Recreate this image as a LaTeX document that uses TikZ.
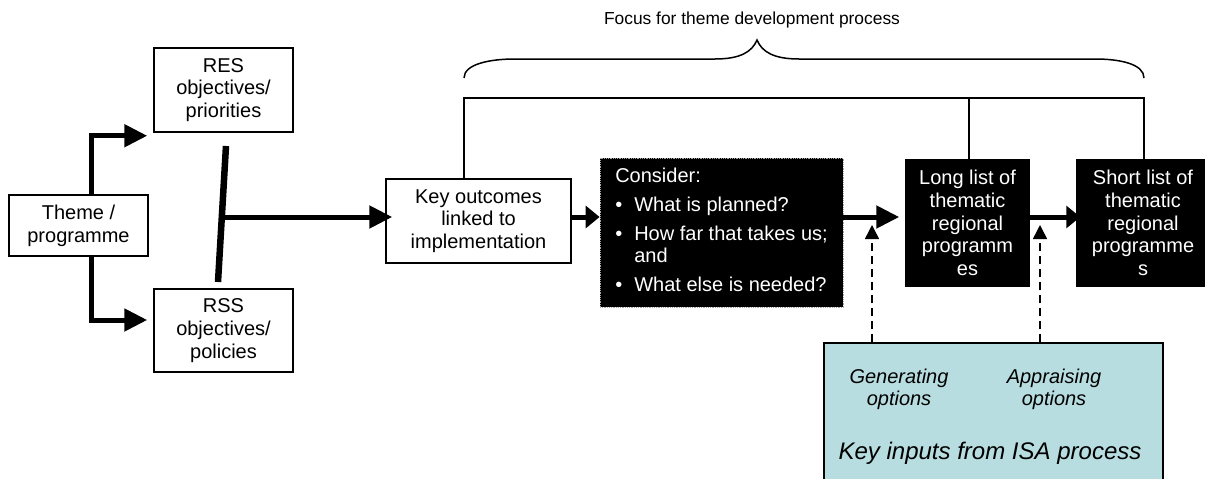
\documentclass[tikz,border=0pt]{standalone}
\usepackage{fontspec}
\setmainfont{Liberation Sans}
\usetikzlibrary{arrows.meta}
\definecolor{isablue}{RGB}{183,221,224}
\tikzset{
  wbox/.style={draw=black, line width=1.5pt, fill=white, align=center, inner sep=0pt,
    font=\fontsize{20}{22.7}\selectfont},
  bbox/.style={draw=black, line width=1.5pt, fill=black, text=white, align=center, inner sep=0pt,
    font=\fontsize{20}{22.7}\selectfont},
  thickarrow/.style={line width=5pt, -{Triangle[length=23pt,width=22pt]}},
  shortarrow/.style={line width=5pt, -{Triangle[length=14pt,width=22pt]}},
  thinline/.style={line width=1.5pt},
  dasharrow/.style={line width=1.5pt, dash pattern=on 8pt off 5pt, -{Triangle[length=14pt,width=14pt]}},
  itext/.style={align=center, inner sep=0pt, font=\fontsize{20}{22}\selectfont\itshape}
}
\begin{document}
\begin{tikzpicture}[x=1pt,y=-1pt]
\useasboundingbox (0,0) rectangle (1205,479);
\clip (0,0) rectangle (1205,479);
\fill[white] (0,0) rectangle (1205,479);

% title and brace
\node[inner sep=0pt, font=\fontsize{17.4}{20}\selectfont] (title) at (752,20) {Focus for theme development process};
\draw[thinline] (464,78) .. controls (464,64) and (490,59) .. (515,59) -- (715,59)
  .. controls (740,59) and (752,52) .. (757,40)
  .. controls (762,52) and (774,59) .. (799,59) -- (1095,59)
  .. controls (1120,59) and (1144,64) .. (1144,78);

% nodes
\node[wbox, minimum width=139pt, minimum height=61pt] (theme) at (78.5,225.5) {Theme /\\programme};
\node[wbox, minimum width=139pt, minimum height=84pt] (res) at (223.5,90) {RES\\objectives/\\priorities};
\node[wbox, minimum width=139pt, minimum height=83pt] (rss) at (223.5,330.5) {RSS\\objectives/\\policies};
\node[wbox, minimum width=185pt, minimum height=84pt] (key) at (478.5,221) {Key outcomes\\linked to\\implementation};
\node[fill=black, draw=gray!70, densely dotted, line width=0.8pt, text=white, inner sep=0pt,
  minimum width=243pt, minimum height=149pt, font=\fontsize{20}{21.5}\selectfont] (consider) at (721.5,232.5)
  {\begin{tabular}{@{}l@{\hspace{12pt}}l@{}}
   \multicolumn{2}{@{}l}{Consider:}\\[7.5pt]
   \textbullet & What is planned?\\[7.5pt]
   \textbullet & How far that takes us;\\
    & and\\[7.5pt]
   \textbullet & What else is needed?
   \end{tabular}};
\node[bbox, minimum width=123pt, minimum height=126pt] (long) at (967.5,223) {Long list of\\thematic\\regional\\programm\\es};
\node[bbox, minimum width=132pt, minimum height=126pt] (short) at (1143,223) {Short list of\\thematic\\regional\\programme\\s};
\node[draw=black, line width=1.5pt, fill=isablue, inner sep=0pt, minimum width=339pt, minimum height=152pt] (isa) at (993.5,419) {};
\node[itext] (gen) at (899,389) {Generating\\options};
\node[itext] (app) at (1054,389) {Appraising\\options};
\node[inner sep=0pt, font=\fontsize{24}{26}\selectfont\itshape] (isalabel) at (990,453) {Key inputs from ISA process};

% coordinates
\coordinate (bl) at (464,98);
\coordinate (br) at (1144,98);
\coordinate (bartop) at (226,146);
\coordinate (barbot) at (218,282);
\coordinate (barmid) at (222,217);
\coordinate (flow) at (0,217);
\coordinate (gentip) at (872,225);
\coordinate (apptip) at (1040,225);

% bracket lines
\draw[thinline] (key.north -| bl) -- (bl) -- (br) -- (short.north -| br);
\draw[thinline] (long.north -| 969,0) -- (bl -| 969,0);

% theme arrows
\draw[thickarrow] ([xshift=12.5pt]theme.north) |- ([xshift=-6pt,yshift=-3pt]res.south west);
\draw[thickarrow] ([xshift=12.5pt]theme.south) |- ([xshift=-6pt,yshift=10.5pt]rss.west);

% bar and main flow
\draw[line width=6.5pt] (bartop) -- (barbot);
\draw[thickarrow] (barmid) -- ([xshift=7pt]key.west |- flow);
\draw[shortarrow] (key.east |- flow) -- (consider.west |- flow);
\draw[thickarrow] (consider.east |- flow) -- ([xshift=-6pt]long.west |- flow);
\draw[shortarrow] (long.east |- flow) -- ([xshift=4pt]short.west |- flow);

% dashed input arrows
\draw[dasharrow] (isa.north -| gentip) -- (gentip);
\draw[dasharrow] (isa.north -| apptip) -- (apptip);
\end{tikzpicture}
\end{document}
